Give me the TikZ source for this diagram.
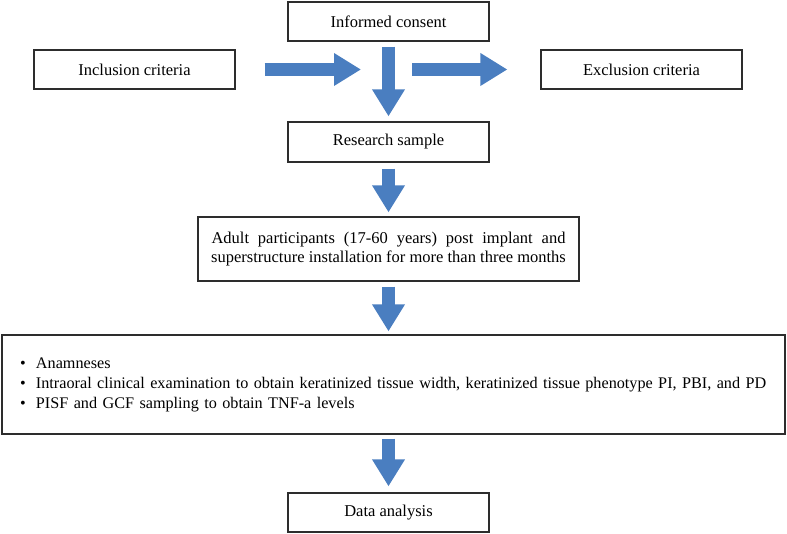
\documentclass[tikz,border=0pt]{standalone}
\usepackage{fontspec}
\setmainfont{Liberation Serif}
\usetikzlibrary{arrows.meta,positioning}
\definecolor{flowblue}{RGB}{74,126,192}
\definecolor{flowgray}{RGB}{45,45,45}

\begin{document}
\begin{tikzpicture}[
  x=1pt, y=-1pt,
  box/.style={rectangle, draw=flowgray, line width=1.2pt, fill=white, minimum width=201pt, minimum height=39pt, align=center, inner sep=0pt, font=\fontsize{16.5}{19.8}\selectfont},
  bigarrow/.style={flowblue, line width=13pt, -{Triangle[length=27pt, width=31pt]}}
]
\useasboundingbox (0,0) rectangle (787,534);

% Top row
\node[box] (consent) at (388.5,21.5) {Informed consent};
\node[box] (incl) at (134.5,69.5) {Inclusion criteria};
\node[box] (excl) at (641.5,69.5) {Exclusion criteria};
\coordinate (junction) at (388.5,69.5);

% Main column
\node[box, minimum height=40pt] (sample) at (388.5,142) {Research sample};
\node[box, minimum width=381pt, minimum height=64pt] (adult) at (388.5,249)
  {\makebox[354pt][s]{Adult participants (17-60 years) post implant and}\\
   superstructure installation for more than three months};
\node[box, minimum width=783pt, minimum height=99pt, text width=747pt, inner xsep=18pt, align=left, font=\fontsize{16.2}{20}\selectfont] (methods) at (393.5,384.5)
  {\makebox[16pt][l]{\textbullet}Anamneses\\
   \mbox{\makebox[16pt][l]{\textbullet}Intraoral clinical examination to obtain keratinized tissue width, keratinized tissue phenotype PI, PBI, and PD}\\
   \makebox[16pt][l]{\textbullet}PISF and GCF sampling to obtain TNF-a levels};
\node[box] (analysis) at (388.5,512.5) {Data analysis};

% Block arrows
\draw[bigarrow, shorten <=29pt, shorten >=27.5pt] (incl.east) -- (junction);
\draw[bigarrow, shorten <=23.5pt, shorten >=33pt] (junction) -- (excl.west);
\draw[bigarrow, shorten <=5pt, shorten >=5pt] (consent.south) -- (sample.north);
\draw[bigarrow, shorten <=6pt, shorten >=4pt] (sample.south) -- (adult.north);
\draw[bigarrow, shorten <=5pt, shorten >=3pt] (adult.south) -- (methods.north -| adult.south);
\draw[bigarrow, shorten <=4pt, shorten >=6pt] (methods.south -| analysis.north) -- (analysis.north);

\end{tikzpicture}
\end{document}
